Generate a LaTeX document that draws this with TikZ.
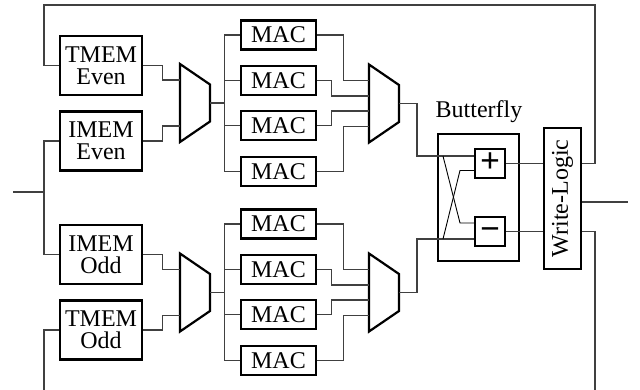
\documentclass[tikz,border=0pt]{standalone}
\usepackage{fontspec}
\setmainfont{Liberation Serif}
\usetikzlibrary{calc}
\newcommand\drawmux[3]{%
  \draw[muxs] ({#2-15},{#3-39}) -- ({#2+15},{#3-18.5}) -- ({#2+15},{#3+18.5}) -- ({#2-15},{#3+39}) -- cycle;
  \coordinate (#1a) at ({#2-15},{#3-23});
  \coordinate (#1b) at ({#2-15},{#3-7.5});
  \coordinate (#1c) at ({#2-15},{#3+7.5});
  \coordinate (#1d) at ({#2-15},{#3+23});
  \coordinate (#1o) at ({#2+15},{#3});
}
\begin{document}
\begin{tikzpicture}[x=1pt,y=-1pt,
  blk/.style={draw=black,line width=2.2pt,fill=white,inner sep=0pt,align=center,
    font=\fontsize{24}{22}\selectfont},
  membox/.style={blk,minimum width=82pt,minimum height=59pt},
  macbox/.style={blk,minimum width=75pt,minimum height=29pt},
  opbox/.style={blk,minimum width=30pt,minimum height=29pt,
    font=\bfseries\fontsize{35}{35}\selectfont,text height=17.5pt,text depth=0pt},
  wire/.style={draw=black!75,line width=1.1pt},
  xwire/.style={draw=black,line width=0.9pt},
  muxs/.style={draw=black,line width=2.2pt,line join=miter}]
\clip (0,0) rectangle (640,389);
% memories
\node[membox] (tmemE) at (101,65.5) {TMEM\\Even};
\node[membox] (imemE) at (101,141) {IMEM\\Even};
\node[membox] (imemO) at (101,254.5) {IMEM\\Odd};
\node[membox] (tmemO) at (101,330) {TMEM\\Odd};
% MACs
\node[macbox] (mac1) at (278.5,35) {MAC};
\node[macbox] (mac2) at (278.5,80.5) {MAC};
\node[macbox] (mac3) at (278.5,125.5) {MAC};
\node[macbox] (mac4) at (278.5,171.5) {MAC};
\node[macbox] (mac5) at (278.5,224) {MAC};
\node[macbox] (mac6) at (278.5,269.5) {MAC};
\node[macbox] (mac7) at (278.5,314.5) {MAC};
\node[macbox] (mac8) at (278.5,360.5) {MAC};
% muxes
\drawmux{m1}{195}{103}
\drawmux{m2}{384}{103.5}
\drawmux{m3}{195}{292.5}
\drawmux{m4}{384}{292.5}
% butterfly
\node[font=\fontsize{24}{22}\selectfont] (bflab) at (479,112) {Butterfly};
\node[blk,minimum width=81pt,minimum height=127pt] (bfly) at (478.5,197.5) {};
\node[blk,minimum width=37pt,minimum height=141pt] (wl) at (562.5,198.5) {\rotatebox{90}{Write-Logic}};
\node[opbox] (plus) at (490,163.5) {+};
\node[opbox] (minus) at (490,231.5) {−};
% coordinates
\coordinate (inp) at (13,192);
\coordinate (jl) at (44,192);
\coordinate (tl) at (44,5);
\coordinate (tr) at (595,5);
\coordinate (bl) at (44,400);
\coordinate (br) at (595,400);
\coordinate (outp) at (628,202);
\coordinate (pA) at ($(plus.west)+(0,-7.5)$);
\coordinate (pB) at ($(plus.west)+(0,7)$);
\coordinate (mA) at ($(minus.west)+(0,-8.5)$);
\coordinate (mB) at ($(minus.west)+(0,7.5)$);
\coordinate (c1) at (443,0);
\coordinate (c2) at (460,0);
% input and feedback
\draw[wire] (inp) -- (jl);
\draw[wire] (imemE.west) -| (jl) |- (imemO.west);
\draw[wire] (wl.east |- plus) -| (tr) -- (tl) |- (tmemE.west);
\draw[wire] (wl.east |- minus) -| (br) -- (bl) |- (tmemO.west);
\draw[wire] (outp -| wl.east) -- (outp);
% memories to muxes
\draw[wire] (tmemE.east) -- ++(19,0) |- (m1a);
\draw[wire] (imemE.east) -- ++(19,0) |- (m1d);
\draw[wire] (imemO.east) -- ++(19,0) |- (m3a);
\draw[wire] (tmemO.east) -- ++(19,0) |- (m3d);
% buses to MACs
\draw[wire] (m1o) -- ++(15,0);
\draw[wire] (mac1.west) -- ++(-15,0) |- (mac4.west);
\draw[wire] (mac2.west) -- ++(-15,0);
\draw[wire] (mac3.west) -- ++(-15,0);
\draw[wire] (m3o) -- ++(15,0);
\draw[wire] (mac5.west) -- ++(-15,0) |- (mac8.west);
\draw[wire] (mac6.west) -- ++(-15,0);
\draw[wire] (mac7.west) -- ++(-15,0);
% MACs to muxes
\draw[wire] (mac1.east) -- ++(26,0) |- (m2a);
\draw[wire] (mac2.east) -- ++(14,0) |- (m2b);
\draw[wire] (mac3.east) -- ++(14,0) |- (m2c);
\draw[wire] (mac4.east) -- ++(26,0) |- (m2d);
\draw[wire] (mac5.east) -- ++(26,0) |- (m4a);
\draw[wire] (mac6.east) -- ++(14,0) |- (m4b);
\draw[wire] (mac7.east) -- ++(14,0) |- (m4c);
\draw[wire] (mac8.east) -- ++(26,0) |- (m4d);
% butterfly wiring
\draw[wire] (m2o) -- ++(18,0) |- (pA);
\draw[wire] (m4o) -- ++(18,0) |- (mB);
\draw[xwire] (pA -| c1) -- (mA -| c2) -- (mA);
\draw[xwire] (mB -| c1) -- (pB -| c2) -- (pB);
\draw[wire] (plus.east) -- (plus.east -| wl.west);
\draw[wire] (minus.east) -- (minus.east -| wl.west);
\end{tikzpicture}
\end{document}
